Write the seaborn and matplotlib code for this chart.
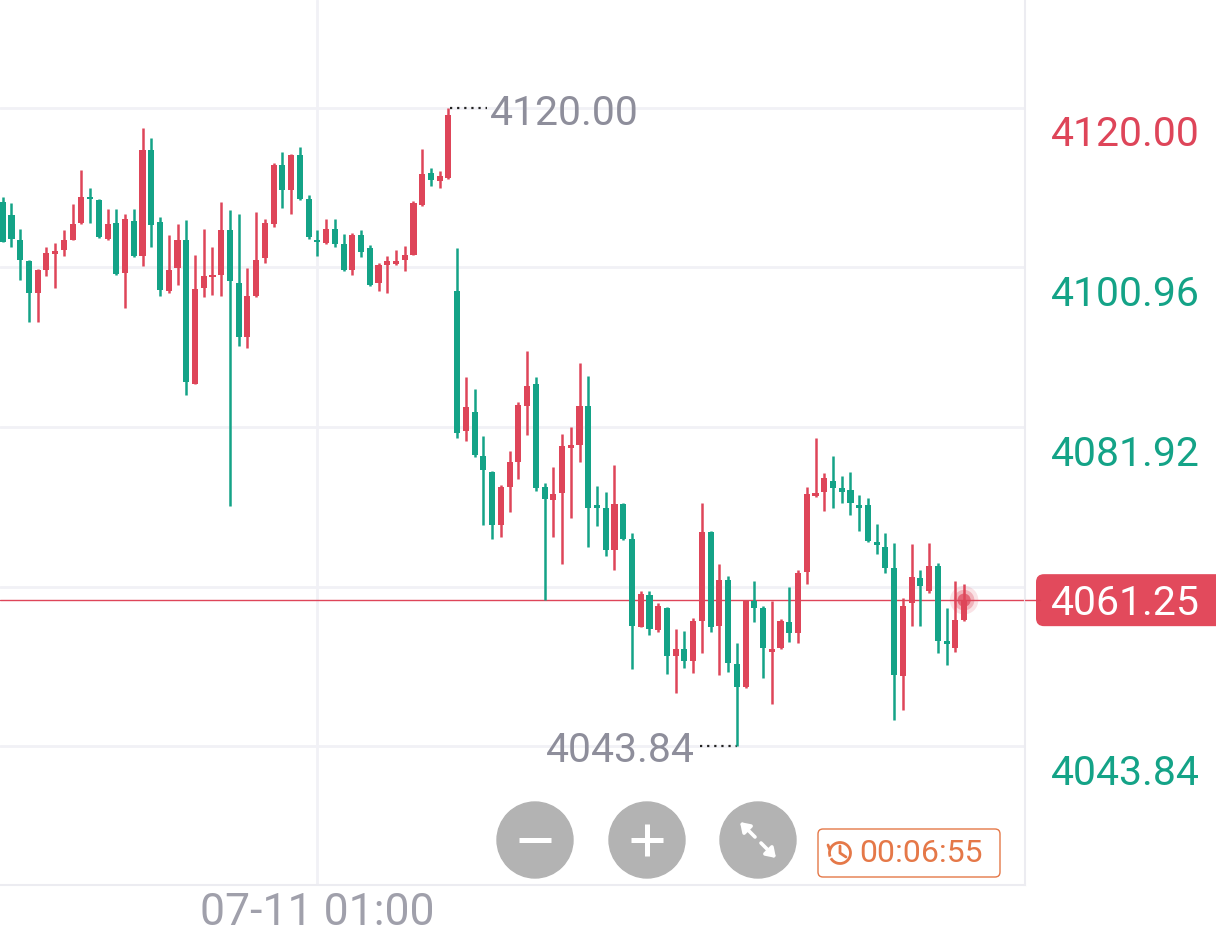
import numpy as np
import pandas as pd
import seaborn as sns
import matplotlib.pyplot as plt
import matplotlib.transforms as mtransforms
from matplotlib.patches import Circle, FancyBboxPatch, Arc

# OHLC values, one entry per candle (left to right)
opens = [4108.8, 4107.2, 4104.2, 4101.7, 4097.9, 4100.7, 4102.6, 4103.0, 4104.3, 4106.3,
         4109.4, 4109.0, 4104.4, 4106.3, 4100.3, 4106.5, 4102.3, 4115.0, 4106.4, 4098.1,
         4100.9, 4104.2, 4087.1, 4098.5, 4099.8, 4100.1, 4105.4, 4099.1, 4092.7, 4097.5,
         4102.1, 4106.2, 4113.2, 4110.2, 4114.4, 4109.1, 4104.3, 4103.9, 4105.6, 4103.8,
         4100.7, 4104.8, 4103.3, 4099.1, 4101.3, 4101.4, 4101.9, 4102.5, 4108.4, 4112.2,
         4111.3, 4111.6, 4098.1, 4081.4, 4083.7, 4078.5, 4076.6, 4070.2, 4074.7, 4077.7,
         4084.4, 4087.1, 4074.7, 4073.2, 4074.0, 4079.4, 4079.8, 4084.4, 4072.6, 4072.2,
         4067.2, 4072.7, 4068.6, 4058.1, 4061.9, 4057.7, 4060.3, 4054.6, 4055.4, 4054.0,
         4058.8, 4069.4, 4058.2, 4063.6, 4053.6, 4050.9, 4061.1, 4060.3, 4055.1, 4055.5,
         4058.7, 4057.3, 4064.6, 4073.7, 4074.2, 4075.5, 4074.6, 4074.4, 4072.6, 4072.6,
         4068.2, 4067.6, 4065.1, 4052.2, 4060.9, 4063.9, 4062.3, 4065.3, 4056.4, 4055.5,
         4058.9]
highs = [4109.4, 4108.6, 4105.5, 4101.8, 4100.8, 4103.4, 4103.9, 4105.4, 4108.5, 4112.6,
         4110.4, 4109.1, 4108.0, 4108.0, 4107.4, 4107.9, 4117.6, 4116.4, 4107.0, 4104.8,
         4106.2, 4106.6, 4102.5, 4105.5, 4103.4, 4108.8, 4107.8, 4107.4, 4100.9, 4107.6,
         4106.8, 4113.4, 4114.8, 4114.5, 4115.4, 4109.6, 4105.4, 4106.7, 4106.7, 4105.0,
         4105.1, 4105.4, 4103.7, 4101.5, 4102.3, 4103.1, 4103.5, 4108.9, 4115.1, 4112.8,
         4112.5, 4120.0, 4103.3, 4087.9, 4086.4, 4080.8, 4076.7, 4075.0, 4079.1, 4084.9,
         4091.0, 4087.9, 4075.2, 4077.1, 4081.1, 4081.9, 4089.6, 4088.0, 4074.9, 4074.2,
         4077.4, 4072.9, 4069.3, 4062.4, 4062.4, 4060.9, 4060.4, 4057.8, 4057.6, 4059.1,
         4072.9, 4069.5, 4065.6, 4064.1, 4056.1, 4061.3, 4063.5, 4060.5, 4061.2, 4059.0,
         4062.8, 4064.9, 4074.7, 4080.6, 4076.4, 4078.5, 4076.1, 4076.6, 4073.8, 4073.4,
         4070.4, 4069.3, 4068.1, 4061.5, 4068.0, 4064.9, 4068.1, 4065.7, 4060.3, 4063.5,
         4063.2]
lows = [4104.0, 4103.4, 4099.5, 4094.4, 4094.4, 4099.9, 4098.5, 4102.3, 4104.2, 4106.2,
        4106.3, 4104.5, 4104.3, 4100.1, 4096.1, 4102.2, 4101.1, 4103.4, 4097.6, 4097.9,
        4098.9, 4085.7, 4087.0, 4097.4, 4097.7, 4097.5, 4072.5, 4091.6, 4091.4, 4097.4,
        4101.5, 4105.8, 4108.1, 4107.4, 4109.0, 4104.4, 4102.3, 4103.8, 4103.4, 4100.5,
        4100.1, 4102.2, 4098.7, 4098.1, 4097.9, 4101.3, 4100.5, 4102.4, 4108.3, 4110.7,
        4110.4, 4111.5, 4080.6, 4080.2, 4078.3, 4070.2, 4068.5, 4068.8, 4071.8, 4075.7,
        4081.0, 4074.3, 4061.3, 4068.8, 4065.6, 4071.1, 4077.8, 4067.6, 4070.1, 4066.5,
        4064.9, 4068.4, 4053.0, 4058.0, 4057.1, 4057.5, 4052.4, 4050.2, 4053.1, 4052.6,
        4054.9, 4057.5, 4052.3, 4052.7, 4043.84, 4050.8, 4058.7, 4052.0, 4048.9, 4055.4,
        4056.2, 4056.1, 4063.2, 4073.6, 4071.9, 4072.3, 4072.8, 4071.4, 4069.5, 4068.2,
        4066.8, 4064.5, 4047.0, 4048.1, 4058.2, 4058.2, 4062.1, 4055.0, 4053.5, 4055.1,
        4058.8]
closes = [4104.0, 4104.4, 4101.9, 4097.9, 4100.7, 4102.7, 4102.8, 4104.2, 4106.2, 4109.4,
          4109.1, 4104.6, 4106.2, 4100.2, 4106.8, 4102.3, 4115.0, 4106.0, 4098.3, 4100.7,
          4104.2, 4087.3, 4098.4, 4099.9, 4100.1, 4105.4, 4099.3, 4092.7, 4097.5, 4101.9,
          4106.3, 4113.2, 4110.2, 4114.4, 4109.1, 4104.6, 4104.0, 4105.6, 4103.8, 4100.7,
          4104.8, 4102.8, 4098.9, 4101.3, 4101.7, 4101.7, 4102.5, 4108.6, 4112.1, 4111.4,
          4111.9, 4119.2, 4081.2, 4084.3, 4078.6, 4076.8, 4070.2, 4074.7, 4077.8, 4084.6,
          4086.8, 4074.6, 4073.3, 4073.9, 4079.7, 4079.8, 4084.4, 4072.2, 4072.2, 4067.2,
          4072.7, 4068.6, 4058.2, 4062.0, 4057.8, 4060.5, 4054.6, 4055.4, 4054.0, 4058.8,
          4069.4, 4058.1, 4063.7, 4053.8, 4050.9, 4061.1, 4060.3, 4055.5, 4055.4, 4058.8,
          4057.3, 4064.5, 4073.9, 4073.9, 4075.8, 4074.6, 4074.2, 4072.8, 4072.3, 4068.3,
          4067.8, 4065.1, 4052.3, 4060.5, 4064.0, 4062.9, 4065.3, 4056.4, 4056.0, 4058.9,
          4061.25]

axis_levels = [4120.00, 4100.96, 4081.92, 4062.88, 4043.84]
axis_labels = ["4120.00", "4100.96", "4081.92", "", "4043.84"]
last_price = 4061.25
time_tick = 36
time_label = "07-11 01:00"
countdown = "00:06:55"

RED = "#de4559"
GREEN = "#14a387"
GRAY = "#8e8e9b"
GRID = "#f1f1f6"

df = pd.DataFrame({"open": opens, "high": highs, "low": lows, "close": closes})
df["idx"] = np.arange(len(df))
df["up"] = df["close"] >= df["open"]
df["color"] = np.where(df["up"], RED, GREEN)
df["bottom"] = df[["open", "close"]].min(axis=1)
df["height"] = (df["close"] - df["open"]).abs().clip(lower=0.3)

sns.set_theme(style="white")
plt.rcParams["font.family"] = ["Roboto", "DejaVu Sans"]

fig = plt.figure(figsize=(12.16, 9.39), dpi=100)
W, H = 1216, 939
ax = fig.add_axes([0, 1 - 885 / H, 1025 / W, 885 / H])

# candles
ax.vlines(df["idx"], df["low"], df["high"], colors=df["color"], lw=1.8, zorder=3)
ax.bar(df["idx"], df["height"], bottom=df["bottom"], width=0.7,
       color=df["color"], linewidth=0, zorder=4)

# last price line + pulsing dot
ax.axhline(last_price, color=RED, lw=1, zorder=2)
last = df.iloc[[-1]]
for s, a in [(420, 0.15), (220, 0.3), (90, 0.7)]:
    sns.scatterplot(x=last["idx"], y=[last_price], s=s, color=RED, alpha=a,
                    edgecolor="none", ax=ax, zorder=5, legend=False)

ax.set_xlim(-0.31, 116.97)
ax.set_ylim(4027.25, 4132.89)
ax.set_xlabel("")
ax.set_ylabel("")

# grid
ax.set_yticks(axis_levels)
ax.set_yticklabels([])
ax.set_xticks([time_tick])
ax.set_xticklabels([time_label], fontsize=32, color="#a0a0ab")
for lbl in ax.get_xticklabels():
    lbl.set_va("center")
ax.tick_params(axis="both", length=0)
ax.tick_params(axis="x", pad=20.5)
ax.grid(True, color=GRID, lw=2)
for s in ["top", "left"]:
    ax.spines[s].set_visible(False)
for s in ["bottom", "right"]:
    ax.spines[s].set_color("#ececf1")
    ax.spines[s].set_linewidth(1.5)

# high / low markers
hi = df["high"].idxmax()
lo = df["low"].idxmin()
ax.plot([hi + 0.2, hi + 4.4], [df["high"][hi]] * 2, ls=(0, (1, 2.2)), color="#222", lw=1.6)
ax.annotate(f"{df['high'][hi]:.2f}", (hi + 4.8, df["high"][hi]), xytext=(0, -4),
            textcoords="offset points", fontsize=29.5, color=GRAY,
            ha="left", va="center")
ax.plot([lo - 4.2, lo], [df["low"][lo]] * 2, ls=(0, (1, 2.2)), color="#222", lw=1.6)
ax.annotate(f"{df['low'][lo]:.2f}", (lo - 4.8, df["low"][lo]), xytext=(0, -3),
            textcoords="offset points", fontsize=29.5, color=GRAY,
            ha="right", va="center")

# right price scale
lab_tr = mtransforms.offset_copy(
    mtransforms.blended_transform_factory(ax.transAxes, ax.transData),
    fig=fig, y=-27, units="dots")
for i, (lv, lb) in enumerate(zip(axis_levels, axis_labels)):
    if lb:
        ax.text(1.0976, lv, lb, transform=lab_tr, fontsize=29.5, ha="center",
                va="center", color=RED if i == 0 else GREEN, clip_on=False)

# overlay in pixel coordinates
ov = fig.add_axes([0, 0, 1, 1], facecolor="none")
ov.set_xlim(0, W)
ov.set_ylim(H, 0)
ov.axis("off")

py = H - ax.transData.transform((0, last_price))[1]
ov.plot([1025, 1040], [py, py], color=RED, lw=1)
ov.add_patch(FancyBboxPatch((1036, py - 26), 190, 52,
                            boxstyle="round,pad=0,rounding_size=8",
                            fc="#e24a5c", ec="none"))
ov.text(1125, py + 3, f"{last_price:.2f}", fontsize=29.5, color="white",
        ha="center", va="center")

# zoom buttons
for cx in [535, 647, 758]:
    ov.add_patch(Circle((cx, 840), 38, color="#b3b3b3"))
ov.plot([519, 551], [840, 840], color="white", lw=3.6, solid_capstyle="butt")
ov.plot([631, 663], [840, 840], color="white", lw=3.6, solid_capstyle="butt")
ov.plot([647, 647], [824, 856], color="white", lw=3.6, solid_capstyle="butt")
for tail, head in [((755, 837), (740, 822)), ((761, 843), (776, 858))]:
    ov.annotate("", xy=head, xytext=tail,
                arrowprops=dict(arrowstyle="-|>,head_length=0.45,head_width=0.3",
                                color="white", lw=2.6, shrinkA=0, shrinkB=0))

# countdown box
ORANGE = "#e57848"
ov.add_patch(FancyBboxPatch((818, 829), 182, 48,
                            boxstyle="round,pad=0,rounding_size=5",
                            fc="white", ec=ORANGE, lw=1))
ov.add_patch(Arc((840, 853), 21, 21, theta1=-200, theta2=150, color=ORANGE, lw=2))
ov.plot([840, 840, 846], [846, 853, 857], color=ORANGE, lw=2)
ov.plot([829.5, 828], [849, 845], color=ORANGE, lw=2)
ov.text(921, 853, countdown, fontsize=23, color=ORANGE, ha="center", va="center")

fig.savefig("out.png", dpi=100)
